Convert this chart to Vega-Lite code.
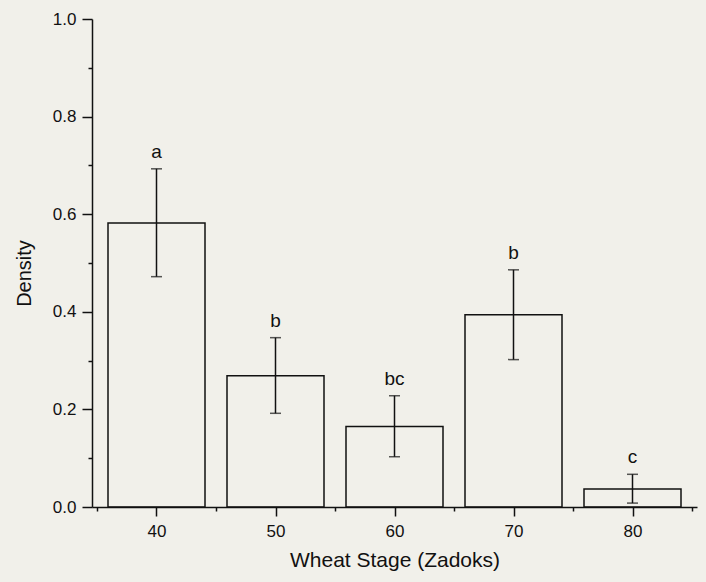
{
  "$schema": "https://vega.github.io/schema/vega-lite/v6.json",
  "width": 605,
  "height": 488,
  "autosize": "none",
  "padding": {"left": 92, "top": 19, "right": 9, "bottom": 75},
  "background": "#f1f0ea",
  "config": {
    "view": {"stroke": null},
    "font": "Liberation Sans",
    "axis": {"domainColor": "#111", "domainWidth": 1.5, "tickColor": "#111", "tickWidth": 1.5, "labelColor": "#111", "titleColor": "#111", "grid": false, "labelFont": "Liberation Sans", "titleFont": "Liberation Sans", "titleFontWeight": "normal", "labelFontSize": 17, "titleFontSize": 20}
  },
  "data": {
    "values": [
      {"stage": 40, "density": 0.582, "lower": 0.472, "upper": 0.693, "group": "a"},
      {"stage": 50, "density": 0.269, "lower": 0.192, "upper": 0.347, "group": "b"},
      {"stage": 60, "density": 0.165, "lower": 0.103, "upper": 0.228, "group": "bc"},
      {"stage": 70, "density": 0.394, "lower": 0.302, "upper": 0.486, "group": "b"},
      {"stage": 80, "density": 0.037, "lower": 0.008, "upper": 0.067, "group": "c"}
    ]
  },
  "encoding": {
    "x": {
      "field": "stage", "type": "quantitative",
      "scale": {"domain": [35, 85], "nice": false, "zero": false},
      "axis": {
        "title": "Wheat Stage (Zadoks)",
        "titleFontSize": 21,
        "values": [35, 40, 45, 50, 55, 60, 65, 70, 75, 80, 85],
        "labelExpr": "datum.value % 10 === 0 ? datum.label : ''",
        "tickSize": {"condition": {"test": "datum.value % 10 === 0", "value": 9}, "value": 4},
        "labelPadding": 7,
        "titlePadding": 10,
        "labelFlush": false
      }
    }
  },
  "layer": [
    {
      "mark": {"type": "bar", "filled": false, "stroke": "#111", "strokeWidth": 1.5, "width": 97},
      "encoding": {
        "y": {
          "field": "density", "type": "quantitative",
          "scale": {"domain": [0, 1], "nice": false},
          "axis": {
            "title": "Density",
            "titleY": 254,
            "values": [0, 0.1, 0.2, 0.3, 0.4, 0.5, 0.6, 0.7, 0.8, 0.9, 1.0],
            "labelExpr": "round(datum.value * 10) % 2 === 0 ? format(datum.value, '.1f') : ''",
            "tickSize": {"condition": {"test": "round(datum.value * 10) % 2 === 0", "value": 10}, "value": 4},
            "labelPadding": 6,
            "titlePadding": 18,
            "labelFlush": false
          }
        }
      }
    },
    {
      "mark": {"type": "rule", "stroke": "#111", "strokeWidth": 1.5},
      "encoding": {
        "y": {"field": "lower", "type": "quantitative"},
        "y2": {"field": "upper"}
      }
    },
    {
      "mark": {"type": "tick", "orient": "horizontal", "color": "#111", "size": 11, "thickness": 1.5},
      "encoding": {"y": {"field": "lower", "type": "quantitative"}}
    },
    {
      "mark": {"type": "tick", "orient": "horizontal", "color": "#111", "size": 11, "thickness": 1.5},
      "encoding": {"y": {"field": "upper", "type": "quantitative"}}
    },
    {
      "mark": {"type": "text", "fontSize": 19, "color": "#111", "baseline": "alphabetic", "dy": -11, "font": "Liberation Sans"},
      "encoding": {
        "y": {"field": "upper", "type": "quantitative"},
        "text": {"field": "group"}
      }
    }
  ]
}
